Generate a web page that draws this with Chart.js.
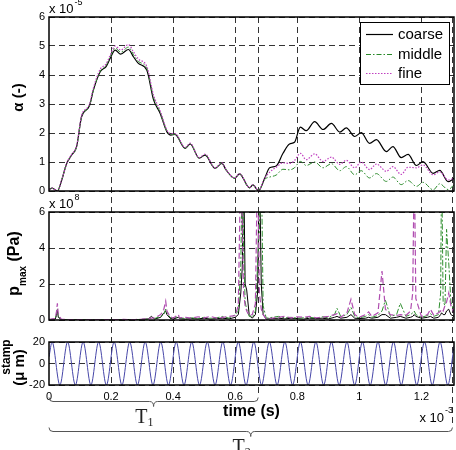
<!DOCTYPE html>
<html><head><meta charset="utf-8">
<script src="https://cdn.jsdelivr.net/npm/chart.js@4/dist/chart.umd.min.js"></script>
<style>
html,body{margin:0;padding:0;background:#fff;}
#wrap{position:relative;width:456px;height:450px;overflow:hidden;background:#fff;}
canvas{position:absolute;left:0;top:0;}
</style></head><body>
<div id="wrap">
<canvas id="cStamp" width="456" height="450" style="z-index:1"></canvas>
<canvas id="cAlpha" width="456" height="450" style="z-index:2"></canvas>
<canvas id="cP" width="456" height="450" style="z-index:3"></canvas>
</div>
<script>
// ---------- data ----------
const X_MAX = 1.305;                     // time axis end (x 10^-3 s)
const xTicks = [0, 0.2, 0.4, 0.6, 0.8, 1.0, 1.2];
const xTickLabels = ['0', '0.2', '0.4', '0.6', '0.8', '1', '1.2'];
const alphaTicks = [0, 1, 2, 3, 4, 5, 6];  // x 10^-5
const pTicks = [0, 2, 4, 6];               // x 10^8
const stampTicks = [-20, 0, 20];
const seriesNames = ['coarse', 'middle', 'fine'];
const intervals = [
  {name: 'T', sub: '1', start: 0, end: 0.674},
  {name: 'T', sub: '2', start: 0, end: 1.3}
];

// alpha (x 10^-5)
const tAlpha = [0, 0.01, 0.027, 0.041, 0.057, 0.073, 0.089, 0.105, 0.13, 0.143,
  0.165, 0.184, 0.197, 0.213, 0.231, 0.256, 0.272, 0.288, 0.315, 0.337,
  0.358, 0.38, 0.393, 0.406, 0.439, 0.455, 0.484, 0.503, 0.535, 0.557,
  0.571, 0.598, 0.614, 0.646, 0.657, 0.675, 0.695, 0.711, 0.732, 0.754,
  0.775, 0.791, 0.81, 0.829, 0.856, 0.883, 0.91, 0.937, 0.958, 0.985,
  1.006, 1.033, 1.055, 1.087, 1.108, 1.135, 1.157, 1.184, 1.205, 1.238,
  1.259, 1.286, 1.305];
const alphaCoarse = [0.05, 0.1, 0.0, 0.38, 0.95, 1.24, 1.53, 2.56, 2.93, 3.48,
  4.11, 4.29, 4.57, 4.86, 4.72, 4.88, 4.63, 4.4, 4.17, 3.14,
  2.68, 2.04, 1.93, 1.95, 1.47, 1.62, 1.13, 1.24, 0.78, 0.95,
  0.72, 0.44, 0.59, 0.11, 0.21, 0.01, 0.44, 0.80, 0.86, 1.30,
  1.62, 1.68, 2.20, 2.08, 2.39, 2.12, 2.33, 2.03, 2.18, 1.88,
  2.01, 1.64, 1.77, 1.36, 1.53, 1.15, 1.26, 0.88, 1.01, 0.61,
  0.71, 0.32, 0.44];
const alphaMiddle = [0.05, 0.1, 0.0, 0.38, 0.95, 1.24, 1.53, 2.56, 2.93, 3.48,
  4.13, 4.33, 4.62, 4.93, 4.79, 4.96, 4.71, 4.47, 4.23, 3.22,
  2.72, 2.06, 1.95, 1.96, 1.48, 1.63, 1.14, 1.25, 0.79, 0.96,
  0.72, 0.44, 0.59, 0.11, 0.21, 0.01, 0.40, 0.48, 0.55, 0.75,
  0.73, 0.80, 1.02, 0.88, 1.00, 0.80, 0.94, 0.70, 0.84, 0.56,
  0.70, 0.45, 0.60, 0.33, 0.48, 0.22, 0.36, 0.16, 0.30, 0.04,
  0.25, 0.05, 0.21];
const alphaFine = [0.05, 0.1, 0.0, 0.38, 0.96, 1.26, 1.56, 2.6, 2.98, 3.55,
  4.2, 4.38, 4.68, 5.0, 4.86, 5.05, 4.8, 4.55, 4.3, 3.3,
  2.78, 2.1, 1.98, 1.98, 1.5, 1.65, 1.15, 1.27, 0.8, 0.97,
  0.73, 0.45, 0.6, 0.12, 0.22, 0.02, 0.44, 0.65, 0.82, 0.97,
  0.95, 1.05, 1.30, 1.08, 1.28, 1.02, 1.17, 0.92, 1.06, 0.80,
  1.00, 0.74, 0.93, 0.68, 0.84, 0.57, 0.82, 0.80, 0.90, 0.56,
  0.66, 0.38, 0.44];

// p_max (x 10^8 Pa); values above 6 run off the top of the panel
const tP = [0, 0.02, 0.024, 0.027, 0.03, 0.04, 0.06, 0.08, 0.10, 0.12,
  0.14, 0.16, 0.18, 0.20, 0.22, 0.24, 0.26, 0.28, 0.30, 0.32,
  0.33, 0.34, 0.36, 0.37, 0.376, 0.38, 0.39, 0.40, 0.417, 0.42,
  0.44, 0.46, 0.48, 0.50, 0.52, 0.54, 0.56, 0.58, 0.60, 0.61,
  0.618, 0.623, 0.627, 0.632, 0.637, 0.645, 0.655, 0.665, 0.672, 0.678,
  0.684, 0.69, 0.70, 0.72, 0.74, 0.76, 0.78, 0.80, 0.82, 0.84,
  0.86, 0.88, 0.90, 0.92, 0.928, 0.94, 0.96, 0.973, 0.985, 1.00,
  1.02, 1.03, 1.04, 1.06, 1.073, 1.084, 1.10, 1.12, 1.132, 1.15,
  1.165, 1.172, 1.177, 1.182, 1.20, 1.22, 1.229, 1.24, 1.255, 1.262,
  1.265, 1.27, 1.276, 1.281, 1.288, 1.295, 1.305];
const pCoarse = [0.02, 0.05, 0.25, 0.55, 0.15, 0.02, 0.01, 0.01, 0.01, 0.01,
  0.01, 0.01, 0.01, 0.01, 0.01, 0.02, 0.02, 0.02, 0.03, 0.06,
  0.2, 0.05, 0.15, 0.4, 0.5, 0.3, 0.1, 0.05, 0.15, 0.08,
  0.05, 0.08, 0.06, 0.1, 0.05, 0.08, 0.1, 0.06, 0.15, 0.3,
  1.5, 3, 9, 2, 1.67, 0.3, 0.1, 0.3, 1.5, 9,
  2, 0.3, 0.05, 0.08, 0.1, 0.06, 0.1, 0.08, 0.05, 0.1,
  0.08, 0.1, 0.06, 0.15, 0.2, 0.1, 0.15, 0.3, 0.1, 0.08,
  0.1, 0.15, 0.1, 0.15, 0.3, 0.3, 0.1, 0.15, 0.2, 0.1,
  0.15, 0.2, 0.3, 0.2, 0.1, 0.15, 0.2, 0.1, 0.15, 0.3,
  0.4, 0.3, 0.3, 0.5, 0.6, 0.3, 0.2];
const pMiddle = [0.02, 0.05, 0.35, 0.6, 0.2, 0.03, 0.01, 0.02, 0.01, 0.01,
  0.01, 0.02, 0.01, 0.01, 0.02, 0.01, 0.02, 0.02, 0.04, 0.05,
  0.1, 0.08, 0.2, 0.3, 0.6, 0.4, 0.15, 0.08, 0.2, 0.1,
  0.1, 0.12, 0.08, 0.15, 0.1, 0.12, 0.2, 0.1, 0.3, 0.5,
  3, 9, 4, 1, 0.6, 0.2, 0.15, 0.5, 3, 5,
  9, 0.8, 0.1, 0.15, 0.2, 0.12, 0.15, 0.1, 0.12, 0.15,
  0.1, 0.18, 0.12, 0.3, 0.65, 0.2, 0.3, 0.7, 0.2, 0.12,
  0.2, 0.3, 0.15, 0.25, 0.5, 1.1, 0.2, 0.3, 0.93, 0.2,
  0.3, 0.4, 0.5, 0.3, 0.15, 0.25, 0.35, 0.2, 0.3, 1.5,
  9, 1.0, 0.8, 5.04, 3.2, 1.0, 0.5];
const pFine = [0.03, 0.08, 0.45, 0.93, 0.3, 0.04, 0.02, 0.02, 0.02, 0.01,
  0.02, 0.01, 0.02, 0.02, 0.02, 0.03, 0.02, 0.03, 0.05, 0.08,
  0.1, 0.12, 0.3, 0.6, 1.05, 0.5, 0.2, 0.1, 0.3, 0.12,
  0.15, 0.1, 0.18, 0.12, 0.2, 0.1, 0.15, 0.2, 0.25, 0.8,
  9, 5, 1.5, 0.8, 0.5, 0.25, 0.3, 0.9, 9, 1.5,
  0.6, 0.3, 0.08, 0.1, 0.15, 0.2, 0.12, 0.18, 0.15, 0.2,
  0.12, 0.15, 0.2, 0.3, 0.35, 0.15, 0.4, 1.15, 0.3, 0.15,
  0.3, 0.45, 0.2, 0.4, 2.72, 0.6, 0.3, 0.25, 0.3, 0.25,
  0.5, 1.5, 9, 1.2, 0.2, 0.3, 0.6, 0.25, 0.4, 0.5,
  0.6, 0.5, 0.8, 1.0, 1.5, 0.8, 0.4];

// stamp displacement (micro m): turning points
const tStamp = [0, 0.01, 0.035, 0.06, 0.085, 0.11, 0.135, 0.16, 0.185, 0.21,
  0.235, 0.26, 0.285, 0.31, 0.335, 0.36, 0.385, 0.41, 0.435, 0.46,
  0.485, 0.51, 0.535, 0.56, 0.585, 0.61, 0.635, 0.66, 0.685, 0.71,
  0.735, 0.76, 0.785, 0.81, 0.835, 0.86, 0.885, 0.91, 0.935, 0.96,
  0.985, 1.01, 1.035, 1.06, 1.085, 1.11, 1.135, 1.16, 1.185, 1.21,
  1.235, 1.26, 1.285, 1.305];
const stampV = [6.2, 20, -20, 20, -20, 20, -20, 20, -20, 20,
  -20, 20, -20, 20, -20, 20, -20, 20, -20, 20,
  -20, 20, -20, 20, -20, 20, -20, 20, -20, 20,
  -20, 20, -20, 20, -20, 20, -20, 20, -20, 20,
  -20, 20, -20, 20, -20, 20, -20, 20, -20, 20,
  -20, 20, -20, 16.2];

// ---------- helpers ----------
const SANS = '"Liberation Sans", Arial, Helvetica, sans-serif';
const SERIF = '"Liberation Serif", "Times New Roman", serif';
const tickFont = {family: SANS, size: 11};
const Y_AXIS_W = 49;
const pts = (ts, vs) => ts.map((t, i) => ({x: t, y: vs[i]}));

function yAxis(ticksArr, min, max) {
  return {
    type: 'linear', min: min, max: max,
    afterBuildTicks: s => { s.ticks = ticksArr.map(v => ({value: v})); },
    afterFit: s => { s.width = Y_AXIS_W; },
    grid: {color: '#333', lineWidth: 1, drawTicks: false},
    border: {display: false, dash: [6, 4]},
    ticks: {color: '#000', font: tickFont, padding: 4, callback: v => String(v)}
  };
}
function vText(ctx, parts, xBase, yCenter) {
  let total = 0;
  parts.forEach(p => { ctx.font = p.font; total += ctx.measureText(p.t).width; });
  ctx.save();
  ctx.translate(xBase, yCenter + total / 2);
  ctx.rotate(-Math.PI / 2);
  ctx.fillStyle = '#000';
  ctx.textBaseline = 'alphabetic';
  let x = 0;
  parts.forEach(p => { ctx.font = p.font; ctx.fillText(p.t, x, p.dy || 0); x += ctx.measureText(p.t).width; });
  ctx.restore();
}
function expLabel(ctx, x, y, exp) {
  ctx.save();
  ctx.fillStyle = '#000';
  ctx.textBaseline = 'alphabetic';
  ctx.font = '13px ' + SANS;
  ctx.fillText('x 10', x, y);
  const w = ctx.measureText('x 10').width;
  ctx.font = '9px ' + SANS;
  ctx.fillText(exp, x + w + 1, y - 8.5);
  ctx.restore();
}
const framePlugin = {
  id: 'frame',
  afterDraw(chart) {
    const a = chart.chartArea, ctx = chart.ctx;
    ctx.save();
    ctx.strokeStyle = '#000';
    ctx.lineWidth = 1.5;
    ctx.setLineDash([]);
    ctx.strokeRect(a.left, a.top, a.right - a.left, a.bottom - a.top);
    ctx.restore();
  }
};
const baseOpts = {
  responsive: false, animation: false, devicePixelRatio: 1,
  plugins: {legend: {display: false}, tooltip: {enabled: false}},
  elements: {point: {radius: 0}}
};

// ---------- top panel: alpha ----------
const alphaLegend = {
  id: 'alphaLegend',
  afterDraw(chart) {
    const ctx = chart.ctx, a = chart.chartArea;
    const x0 = a.right - 94, y0 = a.top + 5, w = 89, h = 62;
    ctx.save();
    ctx.fillStyle = '#fff';
    ctx.fillRect(x0, y0, w, h);
    ctx.strokeStyle = '#000'; ctx.lineWidth = 1;
    ctx.strokeRect(x0 + 0.5, y0 + 0.5, w, h);
    chart.data.datasets.forEach((ds, i) => {
      const y = Math.round(y0 + 12 + i * 19.5) + 0.5;
      ctx.strokeStyle = ds.borderColor; ctx.lineWidth = ds.borderWidth;
      ctx.setLineDash(ds.borderDash || []);
      ctx.beginPath(); ctx.moveTo(x0 + 6, y); ctx.lineTo(x0 + 33, y); ctx.stroke();
      ctx.setLineDash([]);
      ctx.fillStyle = '#000'; ctx.font = '15px ' + SANS; ctx.textBaseline = 'middle';
      ctx.fillText(ds.label, x0 + 38, y);
    });
    ctx.restore();
    const c = chart.ctx;
    vText(c, [{t: 'α (-)', font: 'bold 15px ' + SANS}], 23, (a.top + a.bottom) / 2 - 6.5);
    expLabel(c, a.left, a.top - 4, '-5');
  }
};
const alphaChart = new Chart(document.getElementById('cAlpha'), {
  type: 'line',
  data: {datasets: [
    {label: seriesNames[0], data: pts(tAlpha, alphaCoarse), borderColor: '#000', borderWidth: 1.2, order: 3, cubicInterpolationMode: 'monotone'},
    {label: seriesNames[1], data: pts(tAlpha, alphaMiddle), borderColor: '#2a8a2a', borderWidth: 1, borderDash: [5, 2, 1.5, 2], order: 2, cubicInterpolationMode: 'monotone'},
    {label: seriesNames[2], data: pts(tAlpha, alphaFine), borderColor: '#c040c0', borderWidth: 1.2, borderDash: [1.5, 1.5], order: 1, cubicInterpolationMode: 'monotone'}
  ]},
  options: Object.assign({}, baseOpts, {
    layout: {padding: {left: 0, right: 2, top: 17, bottom: 259}},
    scales: {
      x: {type: 'linear', min: 0, max: X_MAX, display: false},
      y: yAxis(alphaTicks, 0, 6)
    }
  }),
  plugins: [framePlugin, alphaLegend]
});

// ---------- middle panel: p_max ----------
const pLabels = {
  id: 'pLabels',
  afterDraw(chart) {
    const a = chart.chartArea, ctx = chart.ctx;
    vText(ctx, [
      {t: 'p', font: 'bold 16px ' + SANS},
      {t: 'max', font: 'bold 10px ' + SANS, dy: 7},
      {t: ' (Pa)', font: 'bold 16px ' + SANS}
    ], 19, (a.top + a.bottom) / 2 - 2.5);
    expLabel(ctx, a.left, a.top - 3.7, '8');
  }
};
const pChart = new Chart(document.getElementById('cP'), {
  type: 'line',
  data: {datasets: [
    {label: seriesNames[0], data: pts(tP, pCoarse), borderColor: '#000', borderWidth: 1, order: 3},
    {label: seriesNames[1], data: pts(tP, pMiddle), borderColor: '#2f8f2f', borderWidth: 1, borderDash: [6, 2, 2, 2], order: 2},
    {label: seriesNames[2], data: pts(tP, pFine), borderColor: '#b04db0', borderWidth: 1.2, borderDash: [6, 3], order: 1}
  ]},
  options: Object.assign({}, baseOpts, {
    layout: {padding: {left: 0, right: 2, top: 212, bottom: 130}},
    scales: {
      x: {type: 'linear', min: 0, max: X_MAX, display: false},
      y: yAxis(pTicks, 0, 6)
    }
  }),
  plugins: [framePlugin, pLabels]
});

// ---------- bottom panel: stamp ----------
const stampDecor = {
  id: 'stampDecor',
  beforeDatasetsDraw(chart) {
    const xs = chart.scales.x, ctx = chart.ctx, a = chart.chartArea;
    const top = alphaChart.chartArea.top;
    ctx.save();
    ctx.strokeStyle = '#333'; ctx.lineWidth = 1; ctx.setLineDash([6, 4]);
    xTicks.filter(v => v > 0).forEach(v => {
      const x = Math.round(xs.getPixelForValue(v)) + 0.5;
      ctx.beginPath(); ctx.moveTo(x, top); ctx.lineTo(x, a.bottom); ctx.stroke();
    });
    intervals.forEach((iv, k) => {
      const x = Math.round(xs.getPixelForValue(iv.end)) + 0.5;
      const yb = a.bottom + 16 + 30 * k - 4;
      ctx.beginPath(); ctx.moveTo(x, top); ctx.lineTo(x, yb); ctx.stroke();
    });
    ctx.restore();
  },
  afterDraw(chart) {
    const xs = chart.scales.x, ctx = chart.ctx, a = chart.chartArea;
    ctx.save();
    intervals.forEach((iv, k) => {
      const x0 = xs.getPixelForValue(iv.start), x1 = xs.getPixelForValue(iv.end);
      const y = a.bottom + 16 + 30 * k + 0.5, r = 4, tip = 5, xm = (x0 + x1) / 2;
      ctx.strokeStyle = '#555'; ctx.lineWidth = 1; ctx.setLineDash([]);
      ctx.beginPath();
      ctx.moveTo(x0, y - r);
      ctx.quadraticCurveTo(x0, y, x0 + r, y);
      ctx.lineTo(xm - r, y);
      ctx.quadraticCurveTo(xm, y, xm, y + tip);
      ctx.quadraticCurveTo(xm, y, xm + r, y);
      ctx.lineTo(x1 - r, y);
      ctx.quadraticCurveTo(x1, y, x1, y - r);
      ctx.stroke();
      ctx.fillStyle = '#222'; ctx.textBaseline = 'alphabetic';
      ctx.font = '20px ' + SERIF; const wT = ctx.measureText(iv.name).width;
      ctx.font = '12px ' + SERIF; const wS = ctx.measureText(iv.sub).width;
      ctx.font = '20px ' + SERIF; ctx.fillText(iv.name, xm - wT - wS, y + 21);
      ctx.font = '12px ' + SERIF; ctx.fillText(iv.sub, xm - wS, y + 24);
    });
    ctx.restore();
    vText(ctx, [{t: 'stamp', font: 'bold 12px ' + SANS}], 10, 357);
    vText(ctx, [{t: '(μ m)', font: 'bold 15px ' + SANS}], 23.5, (a.top + a.bottom) / 2 + 4);
    // x 10^-3 at lower right
    ctx.save();
    ctx.font = '13px ' + SANS;
    const w = ctx.measureText('x 10').width;
    ctx.restore();
    expLabel(ctx, a.right - 10 - w, a.bottom + 36.7, '-3');
  }
};
const stampChart = new Chart(document.getElementById('cStamp'), {
  type: 'line',
  data: {datasets: [
    {label: 'stamp', data: pts(tStamp, stampV), borderColor: '#4646a8', borderWidth: 1, cubicInterpolationMode: 'monotone'}
  ]},
  options: Object.assign({}, baseOpts, {
    layout: {padding: {left: 0, right: 2, top: 342, bottom: 25}},
    scales: {
      x: {
        type: 'linear', min: 0, max: X_MAX,
        afterBuildTicks: s => { s.ticks = xTicks.map(v => ({value: v})); },
        afterFit: s => { s.height = 40; },
        grid: {display: false, drawTicks: false},
        border: {display: false},
        ticks: {color: '#000', font: tickFont, padding: 5, maxRotation: 0, autoSkip: false,
                callback: (v, i) => xTickLabels[i]},
        title: {display: true, text: 'time (s)', color: '#000',
                font: {family: SANS, size: 16, weight: 'bold'}, padding: {top: 0, bottom: 4}}
      },
      y: yAxis(stampTicks, -20, 20)
    }
  }),
  plugins: [framePlugin, stampDecor]
});
</script>
</body></html>
